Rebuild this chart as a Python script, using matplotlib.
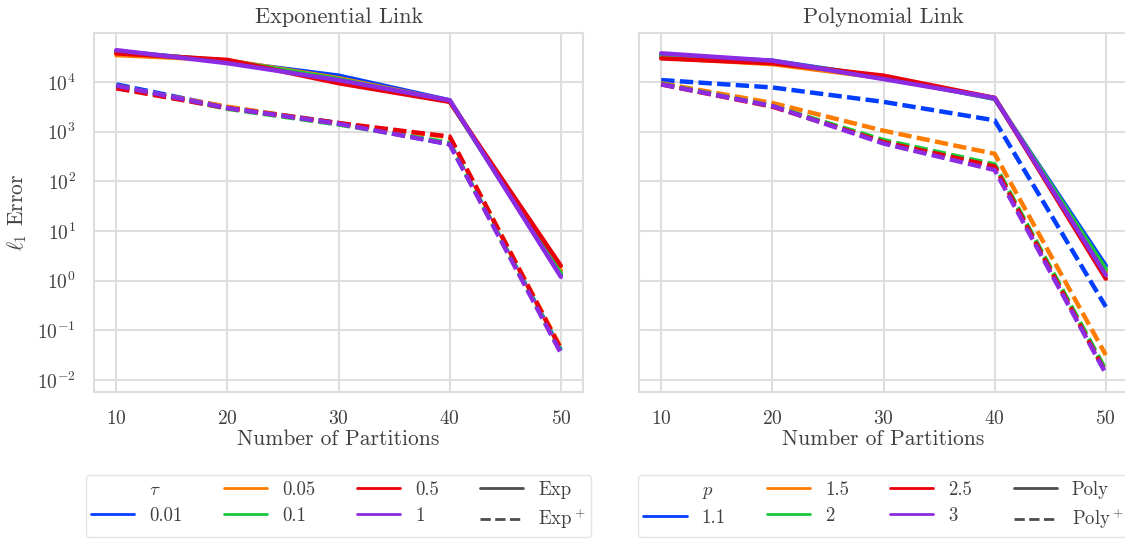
import numpy as np
import matplotlib
matplotlib.use("Agg")
import matplotlib.pyplot as plt
from matplotlib.lines import Line2D
import seaborn as sns

partitions = [10, 20, 30, 40, 50]

tau_values = ["0.01", "0.05", "0.1", "0.5", "1"]
p_values = ["1.1", "1.5", "2", "2.5", "3"]

# l1 error, exponential link (Exp) and its positive variant (Exp+)
exp_err = [
    [42000, 26000, 13500, 4300, 1.3],
    [35000, 27500, 12000, 4200, 1.6],
    [40000, 27000, 11500, 4100, 1.4],
    [38000, 28000, 9500, 4000, 2.0],
    [44000, 24000, 11000, 4300, 1.2],
]
exp_plus_err = [
    [9000, 3100, 1500, 560, 0.040],
    [8000, 3200, 1450, 780, 0.045],
    [8500, 2900, 1400, 600, 0.038],
    [7500, 3000, 1500, 800, 0.042],
    [8500, 3000, 1450, 560, 0.035],
]

# l1 error, polynomial link (Poly) and Poly+
poly_err = [
    [34000, 27000, 12500, 4600, 2.0],
    [31000, 23000, 12000, 4800, 1.5],
    [35000, 26000, 12500, 4700, 1.7],
    [30000, 24000, 13500, 4800, 1.1],
    [38000, 27000, 11500, 4800, 1.3],
]
poly_plus_err = [
    [11000, 7800, 4000, 1700, 0.30],
    [9500, 3800, 1050, 360, 0.032],
    [9200, 3300, 680, 220, 0.016],
    [9000, 3200, 620, 200, 0.014],
    [9000, 3300, 580, 170, 0.0135],
]

sns.set_theme(style="whitegrid", palette="bright")
plt.rcParams["font.family"] = ["cmr10"]
plt.rcParams["mathtext.fontset"] = "cm"
plt.rcParams["axes.formatter.use_mathtext"] = True
plt.rcParams["axes.unicode_minus"] = False
colors = sns.color_palette("bright", 5)

fig = plt.figure(figsize=(11.25, 5.4), dpi=100)
ax1 = fig.add_axes([0.0836, 0.274, 0.4347, 0.665])
ax2 = fig.add_axes([0.568, 0.274, 0.4347, 0.665], sharey=ax1)


def draw(ax, solid, dashed, title):
    for i in range(5):
        ax.plot(partitions, solid[i], color=colors[i], lw=3.2, ls="-")
        ax.plot(partitions, dashed[i], color=colors[i], lw=3.2, ls=(0, (3, 1.2)))
    ax.set_yscale("log")
    ax.set_xlim(8, 52)
    ax.set_ylim(10 ** -2.24, 10 ** 4.99)
    ax.set_xticks(partitions)
    ax.set_title(title, fontsize=16, color=".25", pad=7)
    ax.set_xlabel("Number of Partitions", fontsize=15.5, color=".25", labelpad=1)
    ax.tick_params(labelsize=14, labelcolor=".25", pad=7)
    ax.minorticks_off()
    for s in ax.spines.values():
        s.set_edgecolor(".87")
        s.set_linewidth(1.5)
    ax.grid(color=".87", lw=1.5)


def legend(ax, symbol, labels, name):
    handles = [Line2D([], [], color="none")]
    texts = [symbol]
    for i, lab in enumerate(labels):
        handles.append(Line2D([], [], color=colors[i], lw=2))
        texts.append(lab)
    handles.append(Line2D([], [], color=".3", lw=2))
    handles.append(Line2D([], [], color=".3", lw=2, ls="--"))
    texts += [name, name + "$^+$"]
    leg = ax.legend(handles, texts, loc="upper center", bbox_to_anchor=(0.5, -0.205),
                    ncol=4, fontsize=13.5, frameon=True, handlelength=2.3,
                    handletextpad=0.8, columnspacing=2.2, labelspacing=0.45,
                    borderpad=0.3)
    leg.get_frame().set_edgecolor(".87")
    for t in leg.get_texts():
        t.set_color(".25")


draw(ax1, exp_err, exp_plus_err, "Exponential Link")
draw(ax2, poly_err, poly_plus_err, "Polynomial Link")
ax1.set_ylabel(r"$\ell_1$ Error", fontsize=15.5, color=".25", labelpad=6)
plt.setp(ax2.get_yticklabels(), visible=False)

legend(ax1, r"$\tau$", tau_values, "Exp")
legend(ax2, r"$p$", p_values, "Poly")

fig.savefig("out.png", dpi=100)
